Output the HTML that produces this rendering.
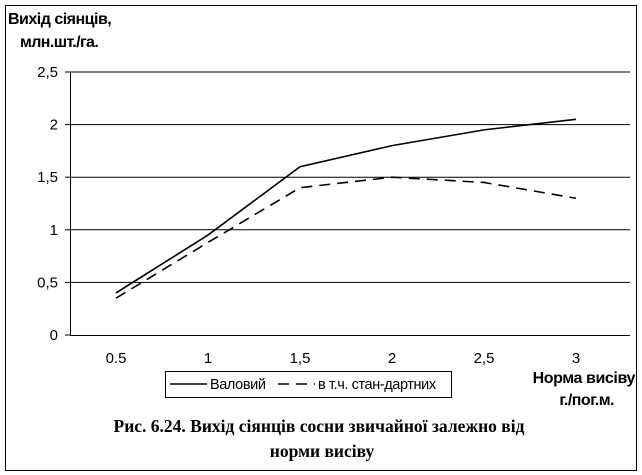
<!DOCTYPE html>
<html><head><meta charset="utf-8"><style>
body{margin:0;background:#fff;}
svg{display:block;font-family:"Liberation Sans",sans-serif;}
</style></head><body>
<svg id="chart" width="642" height="475">
<rect x="5.5" y="5.5" width="631" height="465" fill="none" stroke="#000"/>
<text x="8" y="24" font-size="16" font-weight="bold" letter-spacing="-0.5">Вихід сіянців,</text>
<text x="20" y="47" font-size="16" font-weight="bold" letter-spacing="-0.6">млн.шт./га.</text>
<g id="grid"></g><g id="series"></g>
<rect x="165.5" y="371.5" width="286" height="26" fill="#fff" stroke="#000"/>
<line x1="170" y1="384" x2="207" y2="384" stroke="#000" stroke-width="1.5"/>
<text x="210" y="389" font-size="14.5" letter-spacing="-0.4">Валовий</text>
<line x1="278" y1="384" x2="315" y2="384" stroke="#000" stroke-width="1.5" stroke-dasharray="11,7"/>
<text x="318" y="389" font-size="14.5" letter-spacing="-0.4">в т.ч. стан-дартних</text>
<text x="635" y="383" font-size="16" font-weight="bold" text-anchor="end" letter-spacing="-0.4">Норма висіву</text>
<text x="614" y="405" font-size="16" font-weight="bold" text-anchor="end" letter-spacing="-0.5">г./пог.м.</text>
<text x="319" y="432" font-size="17.5" font-weight="bold" text-anchor="middle" font-family="Liberation Serif,serif">Рис. 6.24. Вихід сіянців сосни звичайної залежно від</text>
<text x="322" y="457" font-size="17.5" font-weight="bold" text-anchor="middle" font-family="Liberation Serif,serif">норми висіву</text>
</svg>
<script>
const categories=["0.5","1","1,5","2","2,5","3"];
const grossValues=[0.4,0.95,1.6,1.8,1.95,2.05];
const standardValues=[0.35,0.88,1.4,1.5,1.45,1.3];
const yTicks=[0,0.5,1,1.5,2,2.5];
const yTickLabels=["0","0,5","1","1,5","2","2,5"];
const NS="http://www.w3.org/2000/svg";
const L=70,R=622,T=72,B=335,yMax=2.5;
const band=(R-L)/categories.length;
const x=i=>L+band*(i+0.5);
const y=v=>B-(v/yMax)*(B-T);
const g=document.getElementById('grid'),s=document.getElementById('series');
function mk(tag,attrs,parent){const e=document.createElementNS(NS,tag);for(const k in attrs)e.setAttribute(k,attrs[k]);parent.appendChild(e);return e;}
yTicks.forEach((v,i)=>{
 if(v>0){const ln=mk('line',{x1:L,x2:R+8,y1:y(v),y2:y(v),stroke:'#000'},g);
 
 }
 const tk=mk('line',{x1:L-5,x2:L,y1:y(v),y2:y(v),stroke:'#000'},g);
 
 
 const t=mk('text',{x:L-12,y:y(v)+5,'font-size':15,'text-anchor':'end'},g);t.textContent=yTickLabels[i];
 
 
});
const ax=mk('line',{x1:L+0.5,x2:L+0.5,y1:T,y2:B,stroke:'#000'},g);


const bx=mk('line',{x1:L,x2:R+8,y1:B+0.5,y2:B+0.5,stroke:'#000'},g);


categories.forEach((c,i)=>{
 const t=mk('text',{x:x(i),y:363,'font-size':15,'text-anchor':'middle'},g);t.textContent=c;
 
 
});
function line(vals,dash,name){
 const p=mk('polyline',{points:vals.map((v,i)=>x(i)+','+y(v)).join(' '),fill:'none',stroke:'#000','stroke-width':1.6},s);
 if(dash)p.setAttribute('stroke-dasharray',dash);
 
 
}
line(grossValues,null,'series-gross');
line(standardValues,'11,7','series-standard');
</script>
</body></html>
